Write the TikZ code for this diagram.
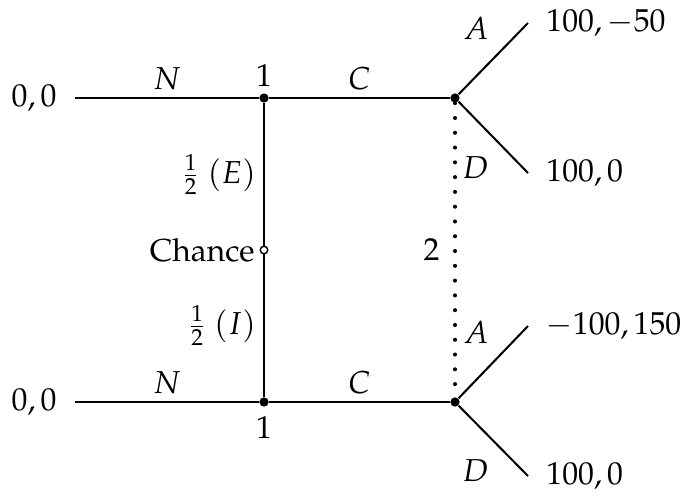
\documentclass[tikz,border=0pt,11pt]{standalone}
\usepackage[T1]{fontenc}
\usepackage{mathpazo}
\usetikzlibrary{positioning}

\begin{document}
\begin{tikzpicture}[
  x=0.345pt, y=-0.345pt,
  decision/.style={circle, fill=black, inner sep=0pt, minimum size=3.2pt},
  chancenode/.style={circle, draw=black, fill=white, inner sep=0pt, minimum size=2.6pt, line width=0.5pt},
  branch/.style={line width=0.7pt},
  infoset/.style={line width=1.4pt, line cap=round, dash pattern=on 0pt off 5.1pt},
  lbl/.style={inner sep=2.5pt}
]
\useasboundingbox (0,0) rectangle (685,496);

% nodes of the tree
\node[chancenode] (chance) at (264,250) {};
\node[decision] (topOne) at (264,98) {};
\node[decision] (botOne) at (264,402) {};
\node[decision] (topTwo) at (455,98) {};
\node[decision] (botTwo) at (455,402) {};
\coordinate (topStart) at (75,98);
\coordinate (botStart) at (75,402);
\coordinate (topA) at (528,23);
\coordinate (topD) at (528,173);
\coordinate (botA) at (528,326);
\coordinate (botD) at (528,476);

% player labels
\node[lbl, above=-0.6pt of topOne] {$1$};
\node[lbl, below=0.5pt of botOne] {$1$};
\node[inner sep=1pt, left=0.5pt of chance] {Chance};

% payoffs
\node[left=2.5pt of topStart] {$0,0$};
\node[left=2.5pt of botStart] {$0,0$};
\node[right=2.5pt of topA] {$100,-50$};
\node[right=2.5pt of topD] {$100,0$};
\node[right=2.5pt of botA] {$-100,150$};
\node[right=2.5pt of botD] {$100,0$};

% branches
\draw[branch] (topStart) -- node[lbl, above] {$N$} (topOne);
\draw[branch] (botStart) -- node[lbl, above] {$N$} (botOne);
\draw[branch] (topOne) -- node[lbl, above] {$C$} (topTwo);
\draw[branch] (botOne) -- node[lbl, above] {$C$} (botTwo);
\draw[branch] (chance) -- node[left, inner sep=2.5pt] {$\frac{1}{2}$ $(E)$} (topOne);
\draw[branch] (chance) -- node[left, inner sep=2.5pt] {$\frac{1}{2}$ $(I)$} (botOne);
\draw[branch] (topTwo) -- node[pos=0.6, above left] {$A$} (topA);
\draw[branch] (topTwo) -- node[pos=0.6, below left] {$D$} (topD);
\draw[branch] (botTwo) -- node[pos=0.6, above left] {$A$} (botA);
\draw[branch] (botTwo) -- node[pos=0.6, below left] {$D$} (botD);

% information set of player 2
\draw[infoset] (topTwo) -- node[left=1pt] {$2$} (botTwo);
\end{tikzpicture}
\end{document}
